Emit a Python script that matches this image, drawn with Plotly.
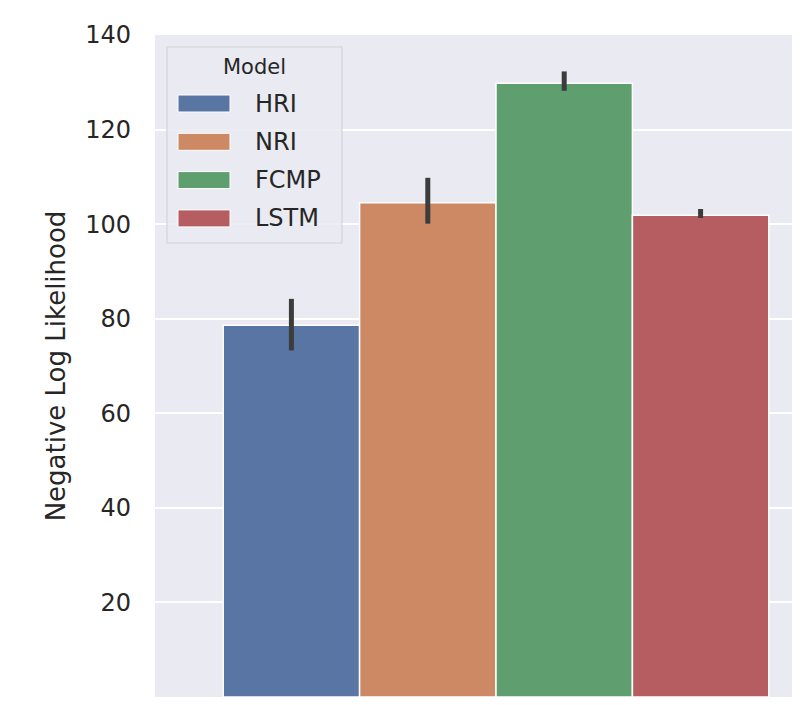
import plotly.graph_objects as go

# ---- data ----
models = ["HRI", "NRI", "FCMP", "LSTM"]
nll = [78.6, 104.5, 129.8, 101.9]
ci_low = [73.3, 100.1, 128.2, 101.3]
ci_high = [84.2, 109.8, 132.3, 103.2]
colors = ["#5875A4", "#CC8963", "#5F9E6E", "#B55D60"]
group = "All"
y_ticks = [0, 20, 40, 60, 80, 100, 120, 140]

# page body has an 8px margin; keep figure inside the 800x705 viewport
OFF = 8
W, H = 800 - 2 * OFF, 705 - 2 * OFF
ML, MR, MT, MB = 155 - OFF, 0, 35 - OFF, 0
PW, PH = W - ML - MR, H - MT - MB
SCR_L, SCR_B = ML + OFF, OFF + H - MB  # plot area edges in screen px


def px(xp):
    return (xp - SCR_L) / PW


def py(yp):
    return (SCR_B - yp) / PH


UNIT = 682.0  # px per x unit
x_right = -0.5 + PW / UNIT

fig = go.Figure()
for m, v, lo, hi, c in zip(models, nll, ci_low, ci_high, colors):
    fig.add_trace(go.Bar(
        x=[group], y=[v], name=m,
        marker=dict(color=c, line=dict(color="white", width=1.5)),
        error_y=dict(type="data", symmetric=False, array=[hi - v], arrayminus=[v - lo],
                     color="#3c3c3c", thickness=5, width=0),
        showlegend=False,
    ))

# legend drawn as shapes/annotations (wide swatches like the reference)
shapes = [dict(type="rect", xref="paper", yref="paper",
               x0=px(167), x1=px(342), y0=py(243), y1=py(47),
               fillcolor="rgba(234,234,242,0.85)", line=dict(color="#d2d2da", width=1.2),
               layer="above")]
annotations = [dict(text="Model", xref="paper", yref="paper", x=px(254), y=py(67),
                    xanchor="center", yanchor="middle", showarrow=False,
                    font=dict(size=21, color="#262626"))]
for i, (m, c) in enumerate(zip(models, colors)):
    yc = 103.5 + i * 38.3
    shapes.append(dict(type="rect", xref="paper", yref="paper",
                       x0=px(178), x1=px(230), y0=py(yc + 8.5), y1=py(yc - 8.5),
                       fillcolor=c, line=dict(color="white", width=1), layer="above"))
    annotations.append(dict(text=m, xref="paper", yref="paper", x=px(253), y=py(yc),
                            xanchor="left", yanchor="middle", showarrow=False,
                            font=dict(size=24, color="#262626")))

fig.update_layout(
    width=W, height=H,
    margin=dict(l=ML, r=MR, t=MT, b=MB, pad=0),
    paper_bgcolor="white", plot_bgcolor="#EAEAF2",
    barmode="group", bargap=0.2, bargroupgap=0,
    font=dict(family="DejaVu Sans", color="#262626"),
    shapes=shapes, annotations=annotations,
    xaxis=dict(range=[-0.5, x_right], showticklabels=False,
               showgrid=False, zeroline=False, ticks=""),
    yaxis=dict(range=[0, 140], tickvals=y_ticks, showgrid=True, gridcolor="white",
               gridwidth=1.5, zeroline=False, ticks="", ticklabelstandoff=23,
               tickfont=dict(size=24, color="#262626"),
               title=dict(text="Negative Log Likelihood", font=dict(size=26, color="#262626"),
                          standoff=12)),
)

fig.write_html("out.html")
